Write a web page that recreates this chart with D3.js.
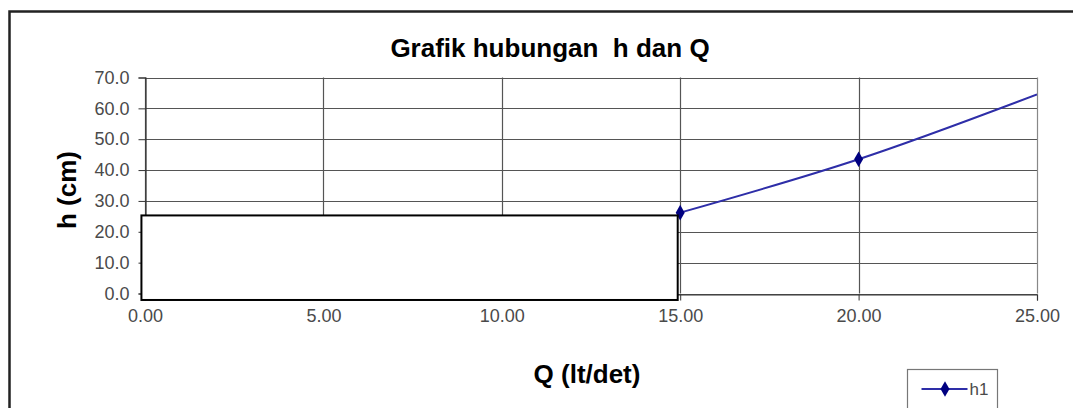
<!DOCTYPE html>
<html>
<head>
<meta charset="utf-8">
<script src="https://cdn.jsdelivr.net/npm/d3@7"></script>
<style>
  body { margin: 0; background: #fff; }
  text { font-family: "Liberation Sans", Arial, sans-serif; }
</style>
</head>
<body>
<div id="chart"></div>
<script>
(function(){
  var width = 1073, height = 408;

  // data
  var qValues = [15, 20, 25];
  var hValues = [26.2, 43.5, 64.5];
  var xTicks = [0, 5, 10, 15, 20, 25];
  var yTicks = [0, 10, 20, 30, 40, 50, 60, 70];
  var seriesName = "h1";
  // white cover box drawn over the lower-left corner (in data units)
  var coverQ = [-0.1, 14.93];
  var coverH = [-2.1, 25.3];

  var plot = {left: 145, right: 1037, top: 77.5, bottom: 293.5};
  var lineColor = "#2e2ea8", markColor = "#000080";

  var svg = d3.select("#chart")
    .append("svg")
    .attr("width", width)
    .attr("height", height);

  // outer chart frame (right and bottom run off the image)
  svg.append("path")
    .attr("d", "M9.5," + (height + 5) + " V11.5 H" + (width + 5))
    .attr("fill", "none")
    .attr("stroke", "#222")
    .attr("stroke-width", 2.5);

  var x = d3.scaleLinear().domain([0, 25]).range([plot.left, plot.right]);
  var y = d3.scaleLinear().domain([0, 70]).range([plot.bottom, plot.top]);

  // grid
  svg.append("g").selectAll("line")
    .data(yTicks)
    .enter().append("line")
    .attr("x1", plot.left).attr("x2", plot.right)
    .attr("y1", function(d){ return Math.round(y(d)) + 0.5; })
    .attr("y2", function(d){ return Math.round(y(d)) + 0.5; })
    .attr("stroke", "#555").attr("stroke-width", 1.2);

  svg.append("g").selectAll("line")
    .data(xTicks)
    .enter().append("line")
    .attr("y1", plot.top).attr("y2", plot.bottom)
    .attr("x1", function(d){ return Math.round(x(d)) + 0.5; })
    .attr("x2", function(d){ return Math.round(x(d)) + 0.5; })
    .attr("stroke", function(d){ return d === 25 ? "#888" : "#555"; })
    .attr("stroke-width", 1.2);

  // axes
  var xAxis = svg.append("g")
    .attr("transform", "translate(0," + (Math.round(plot.bottom) + 0.5) + ")")
    .call(d3.axisBottom(x).tickValues(xTicks).tickSize(6).tickPadding(9)
      .tickFormat(d3.format(".2f")));
  var yAxis = svg.append("g")
    .attr("transform", "translate(" + (Math.round(plot.left) + 0.5) + ",0)")
    .call(d3.axisLeft(y).tickValues(yTicks).tickSize(7).tickPadding(9)
      .tickFormat(d3.format(".1f")));

  [xAxis, yAxis].forEach(function(ax){
    ax.attr("font-size", 18);
    ax.select(".domain").attr("stroke", "#333").attr("stroke-width", 1.2);
    ax.selectAll(".tick line").attr("stroke", "#333");
    ax.selectAll(".tick text")
      .attr("fill", "#4a4a4a")
      .style("font-size", "18px")
      .style("font-family", "'Liberation Sans', Arial, sans-serif");
  });

  // series
  var pts = qValues.map(function(q, i){ return {q: q, h: hValues[i]}; });

  svg.append("defs").append("clipPath").attr("id", "plotClip")
    .append("rect")
    .attr("x", plot.left).attr("y", plot.top)
    .attr("width", plot.right - plot.left)
    .attr("height", plot.bottom - plot.top);

  var line = d3.line()
    .x(function(d){ return x(d.q); })
    .y(function(d){ return y(d.h); })
    .curve(d3.curveCatmullRom);

  svg.append("path")
    .datum(pts)
    .attr("clip-path", "url(#plotClip)")
    .attr("d", line)
    .attr("fill", "none")
    .attr("stroke", lineColor)
    .attr("stroke-width", 2);

  var diamond = d3.symbol().type(d3.symbolDiamond).size(70);
  svg.append("g").selectAll("path")
    .data(pts.filter(function(d){ return d.q < 25; }))
    .enter().append("path")
    .attr("d", diamond)
    .attr("transform", function(d){ return "translate(" + x(d.q) + "," + y(d.h) + ")"; })
    .attr("fill", markColor);

  // white cover box
  svg.append("rect")
    .attr("x", x(coverQ[0]))
    .attr("y", y(coverH[1]))
    .attr("width", x(coverQ[1]) - x(coverQ[0]))
    .attr("height", y(coverH[0]) - y(coverH[1]))
    .attr("fill", "#fff")
    .attr("stroke", "#000")
    .attr("stroke-width", 2);

  // titles
  svg.append("text")
    .attr("x", 550).attr("y", 57)
    .attr("text-anchor", "middle")
    .attr("font-weight", "bold")
    .style("font-size", "26px")
    .style("white-space", "pre")
    .text("Grafik hubungan  h dan Q");

  svg.append("text")
    .attr("transform", "translate(76,190) rotate(-90)")
    .attr("text-anchor", "middle")
    .attr("font-weight", "bold")
    .style("font-size", "26px")
    .text("h (cm)");

  svg.append("text")
    .attr("x", 587).attr("y", 383)
    .attr("text-anchor", "middle")
    .attr("font-weight", "bold")
    .style("font-size", "26px")
    .text("Q (lt/det)");

  // legend
  var lg = svg.append("g").attr("transform", "translate(907.5,369.5)");
  lg.append("rect")
    .attr("width", 90).attr("height", 60)
    .attr("fill", "#fff").attr("stroke", "#777").attr("stroke-width", 1.2);
  lg.append("line")
    .attr("x1", 14).attr("x2", 60).attr("y1", 19.5).attr("y2", 19.5)
    .attr("stroke", lineColor).attr("stroke-width", 2);
  lg.append("path")
    .attr("d", diamond)
    .attr("transform", "translate(37.5,19.5)")
    .attr("fill", markColor);
  lg.append("text")
    .attr("x", 62).attr("y", 25.5)
    .attr("fill", "#4a4a4a")
    .style("font-size", "17px")
    .text(seriesName);
})();
</script>
</body>
</html>
